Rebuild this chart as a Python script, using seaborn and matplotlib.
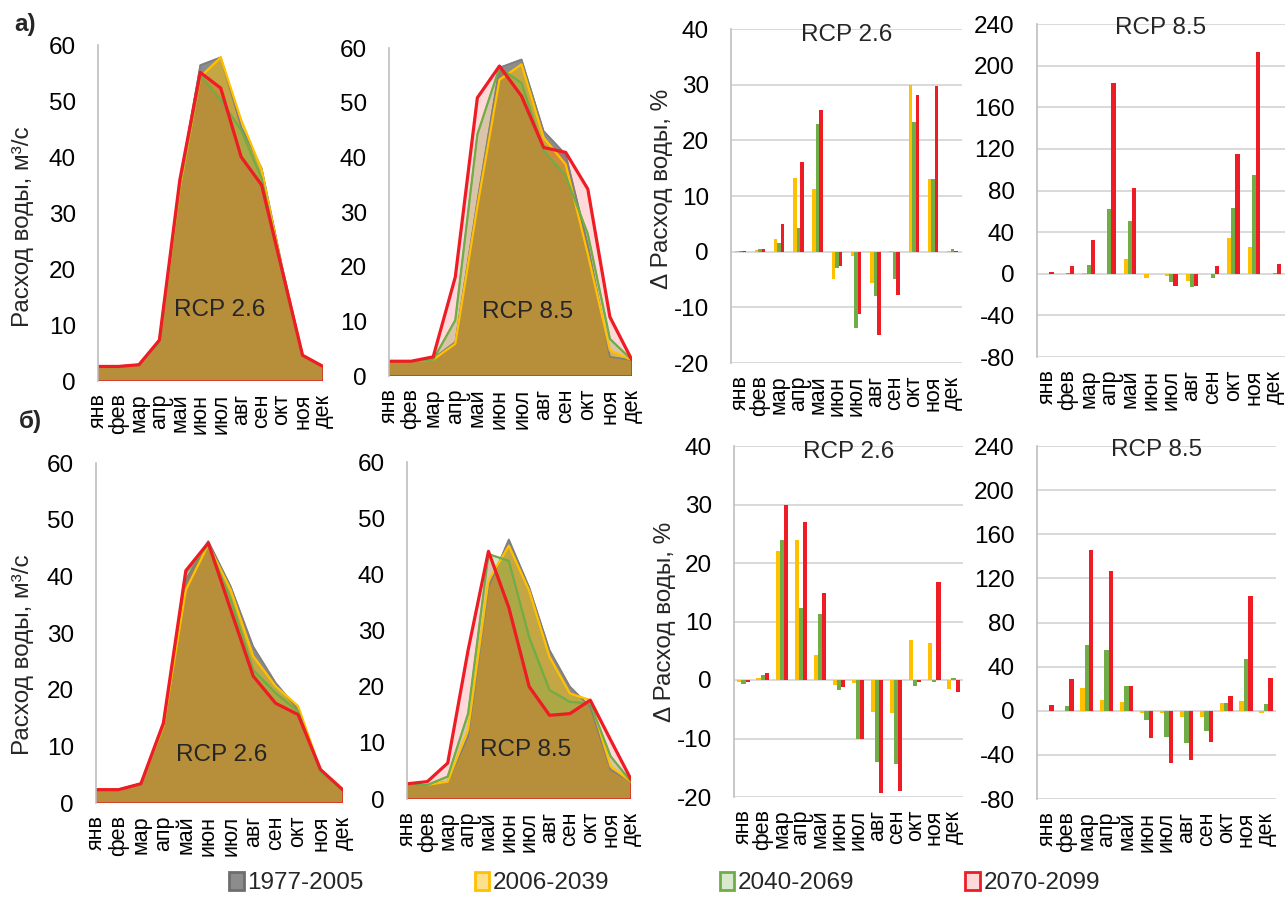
import numpy as np
import pandas as pd
import matplotlib
matplotlib.use('Agg')
import matplotlib.pyplot as plt
import seaborn as sns
from matplotlib.patches import Patch

# ---- data -------------------------------------------------------------
months = ['янв', 'фев', 'мар', 'апр', 'май', 'июн',
          'июл', 'авг', 'сен', 'окт', 'ноя', 'дек']
periods = ['1977-2005', '2006-2039', '2040-2069', '2070-2099']

# monthly flow, m3/s  (a = upper row, b = lower row)
flow_a26_base = [2.6, 2.6, 2.9, 7.2, 35.5, 56.4, 57.8, 45.4, 38.0, 20.5, 4.6, 2.6]
flow_a26_p1 = [2.6, 2.6, 2.9, 7.2, 34.5, 54.3, 57.8, 46.6, 37.7, 20.0, 4.6, 2.6]
flow_a26_p2 = [2.6, 2.6, 2.9, 7.0, 35.0, 54.6, 50.2, 44.8, 36.2, 19.5, 4.5, 2.6]
flow_a26_p3 = [2.6, 2.6, 2.9, 7.3, 35.9, 55.1, 52.3, 40.0, 35.0, 19.8, 4.6, 2.6]

flow_a85_base = [2.7, 2.7, 3.2, 6.2, 32.0, 56.4, 57.9, 44.8, 40.5, 24.0, 3.5, 2.9]
flow_a85_p1 = [2.7, 2.7, 3.0, 5.9, 31.0, 54.2, 57.0, 43.6, 38.7, 22.3, 4.7, 2.9]
flow_a85_p2 = [2.7, 2.7, 3.0, 10.2, 44.2, 56.4, 53.6, 41.2, 36.6, 26.0, 6.8, 2.9]
flow_a85_p3 = [2.7, 2.7, 3.5, 18.1, 50.9, 56.7, 51.2, 41.8, 40.9, 34.2, 10.8, 2.9]

flow_b26_base = [2.35, 2.35, 3.4, 14.0, 39.4, 46.2, 38.2, 27.6, 21.2, 16.5, 5.6, 2.3]
flow_b26_p1 = [2.35, 2.35, 3.4, 13.5, 37.6, 45.6, 37.6, 25.9, 20.6, 17.1, 5.8, 2.3]
flow_b26_p2 = [2.35, 2.35, 3.4, 13.8, 40.6, 45.6, 35.9, 23.5, 19.4, 16.2, 5.5, 2.3]
flow_b26_p3 = [2.35, 2.35, 3.4, 14.1, 41.0, 45.9, 34.1, 22.4, 17.6, 15.6, 5.9, 2.3]

flow_b85_base = [2.5, 2.5, 3.1, 11.1, 37.7, 46.2, 37.7, 26.5, 20.0, 16.4, 5.2, 3.1]
flow_b85_p1 = [2.5, 2.5, 3.1, 12.3, 38.9, 45.1, 37.1, 25.3, 18.8, 17.6, 5.8, 3.1]
flow_b85_p2 = [2.5, 2.5, 4.0, 15.2, 43.6, 42.4, 28.8, 19.4, 17.3, 17.0, 7.6, 3.1]
flow_b85_p3 = [2.7, 3.1, 6.4, 26.5, 44.1, 34.1, 20.0, 14.9, 15.2, 17.6, 10.5, 3.5]

# change of flow vs 1977-2005, %
dq_a26_p1 = [0.1, 0.3, 2.3, 13.3, 11.3, -5.0, -0.8, -5.6, 0.1, 30.0, 13.0, 0.2]
dq_a26_p2 = [0.1, 0.5, 1.6, 4.3, 22.9, -2.9, -13.8, -7.9, -5.0, 23.3, 13.0, 0.4]
dq_a26_p3 = [0.1, 0.5, 5.0, 16.1, 25.4, -2.5, -11.2, -15.0, -7.7, 28.2, 29.8, 0.2]

dq_a85_p1 = [-0.5, 0.0, 1.0, -0.5, 14.0, -4.0, -2.0, -7.0, 0.0, 34.0, 26.0, 0.0]
dq_a85_p2 = [0.0, 1.0, 8.0, 62.0, 51.0, 0.0, -8.0, -13.0, -4.0, 63.0, 95.0, 1.0]
dq_a85_p3 = [2.0, 7.0, 32.0, 183.0, 82.0, 0.0, -12.0, -12.0, 7.0, 115.0, 213.0, 9.0]

dq_b26_p1 = [-0.3, 0.4, 22.0, 24.0, 4.2, -0.8, -0.5, -5.4, -5.6, 6.8, 6.3, -1.5]
dq_b26_p2 = [-0.6, 0.9, 24.0, 12.3, 11.3, -1.7, -10.0, -14.1, -14.3, -1.0, -0.3, 0.4]
dq_b26_p3 = [-0.3, 1.2, 30.0, 27.0, 14.8, -1.2, -10.0, -19.3, -19.0, -0.4, 16.8, -2.0]

dq_b85_p1 = [0.0, 0.0, 21.0, 10.0, 8.0, -2.0, -2.0, -6.0, -6.0, 7.0, 9.0, -2.0]
dq_b85_p2 = [0.0, 4.0, 60.0, 55.0, 22.0, -8.0, -24.0, -29.0, -18.0, 7.0, 47.0, 6.0]
dq_b85_p3 = [5.0, 29.0, 146.0, 127.0, 22.0, -25.0, -47.0, -45.0, -28.0, 13.0, 104.0, 30.0]

# ---- style ------------------------------------------------------------
sns.set_theme(style='white')
plt.rcParams['font.family'] = ['Liberation Sans', 'DejaVu Sans']
plt.rcParams['axes.unicode_minus'] = False

line_colors = ['#7F7F7F', '#FFC000', '#70AD47', '#EE1C24']
fill_colors = ['#8C8C8C', '#FFC000', '#70AD47', '#FF0000']
fill_alpha = [1.0, 0.5, 0.3, 0.15]
line_widths = [1.2, 1.6, 1.6, 2.3]
bar_colors = ['#FFC000', '#70AD47', '#EE1C24']
spine_col = '#BFBFBF'
grid_col = '#D9D9D9'
FS = 17.5
FS_MONTH = 15.5

W, H = 1288, 913
fig = plt.figure(figsize=(W / 100, H / 100), dpi=100)


def px_axes(left, top, right, bottom):
    return fig.add_axes([left / W, 1 - bottom / H, (right - left) / W, (bottom - top) / H])


def style_common(ax):
    for s in ['top', 'right', 'bottom']:
        ax.spines[s].set_visible(False)
    ax.spines['left'].set_color(spine_col)
    ax.spines['left'].set_linewidth(1.2)
    ax.tick_params(axis='y', length=0, pad=16, labelsize=FS, colors='black')
    ax.tick_params(axis='x', length=0, pad=9, labelsize=FS_MONTH, colors='black')
    ax.set_xlabel('')
    ax.set_ylabel('')


def draw_area(ax, series, label, tx, ty):
    x = np.arange(len(months))
    for i, vals in enumerate(series):
        ax.fill_between(x, 0, vals, facecolor=fill_colors[i], alpha=fill_alpha[i],
                        edgecolor='none', linewidth=0)
        ax.fill_between(x, 0, vals, facecolor='none', edgecolor=line_colors[i],
                        linewidth=1.0)
        sns.lineplot(x=x, y=vals, ax=ax, color=line_colors[i], lw=line_widths[i],
                     legend=False)
    ax.set_xlim(0, 11)
    ax.set_ylim(0, 60)
    ax.set_yticks(range(0, 61, 10))
    ax.set_xticks(x)
    ax.set_xticklabels(months, rotation=90)
    style_common(ax)
    ax.text(tx, ty, label, transform=ax.transAxes, ha='center', va='center', fontsize=FS)


def draw_bars(ax, p1, p2, p3, title, ylim, step, ty, width):
    df = pd.DataFrame({
        'month': months * 3,
        'period': np.repeat(periods[1:], len(months)),
        'change': np.concatenate([p1, p2, p3]),
    })
    sns.barplot(data=df, x='month', y='change', hue='period', order=months,
                hue_order=periods[1:], palette=bar_colors, width=width, saturation=1,
                errorbar=None, legend=False, linewidth=0, ax=ax)
    ax.set_ylim(*ylim)
    ax.set_yticks(np.arange(ylim[0], ylim[1] + 1, step))
    ax.set_xlim(-0.5, 11.5)
    ax.set_axisbelow(True)
    ax.yaxis.grid(True, color=grid_col, linewidth=1.4)
    ax.xaxis.grid(False)
    ax.set_xticks(range(12))
    ax.set_xticklabels(months, rotation=90)
    style_common(ax)
    ax.text(0.5, ty, title, transform=ax.transAxes, ha='center', va='center', fontsize=FS)


ylab_flow = 'Расход воды, м³/с'
ylab_delta = 'Δ Расход воды, %'

# upper row
ax = px_axes(98, 45, 323, 381)
draw_area(ax, [flow_a26_base, flow_a26_p1, flow_a26_p2, flow_a26_p3], 'RCP 2.6', 0.54, 0.21)
ax.text(-0.335, 0.46, ylab_flow, transform=ax.transAxes, rotation=90,
        ha='center', va='center', fontsize=FS)

ax = px_axes(389, 48, 632, 376)
draw_area(ax, [flow_a85_base, flow_a85_p1, flow_a85_p2, flow_a85_p3], 'RCP 8.5', 0.57, 0.195)

ax = px_axes(731, 29, 962, 363)
draw_bars(ax, dq_a26_p1, dq_a26_p2, dq_a26_p3, 'RCP 2.6', (-20, 40), 10, 0.982, 0.55)
ax.text(-0.30, 0.52, ylab_delta, transform=ax.transAxes, rotation=90,
        ha='center', va='center', fontsize=FS)

ax = px_axes(1037, 24, 1285, 357)
draw_bars(ax, dq_a85_p1, dq_a85_p2, dq_a85_p3, 'RCP 8.5', (-80, 240), 40, 0.988, 0.6)

# lower row
ax = px_axes(96, 463, 343, 803)
draw_area(ax, [flow_b26_base, flow_b26_p1, flow_b26_p2, flow_b26_p3], 'RCP 2.6', 0.51, 0.14)
ax.text(-0.296, 0.435, ylab_flow, transform=ax.transAxes, rotation=90,
        ha='center', va='center', fontsize=FS)

ax = px_axes(407, 462, 631, 799)
draw_area(ax, [flow_b85_base, flow_b85_p1, flow_b85_p2, flow_b85_p3], 'RCP 8.5', 0.53, 0.145)

ax = px_axes(734, 446, 963, 797)
draw_bars(ax, dq_b26_p1, dq_b26_p2, dq_b26_p3, 'RCP 2.6', (-20, 40), 10, 0.983, 0.65)
ax.text(-0.30, 0.50, ylab_delta, transform=ax.transAxes, rotation=90,
        ha='center', va='center', fontsize=FS)

ax = px_axes(1037, 446, 1276, 799)
draw_bars(ax, dq_b85_p1, dq_b85_p2, dq_b85_p3, 'RCP 8.5', (-80, 240), 40, 0.989, 0.67)

# panel letters
fig.text(25 / W, 1 - 25 / H, 'а)', fontsize=FS, fontweight='bold', ha='center', va='center')
fig.text(30 / W, 1 - 421 / H, 'б)', fontsize=FS, fontweight='bold', ha='center', va='center')

# legend
legend_faces = ['#8C8C8C', '#FFE08A', '#D8E9CE', '#FFD9D9']
legend_edges = ['#6E6E6E', '#FFC000', '#70AD47', '#EE1C24']
handles = [Patch(facecolor=f, edgecolor=e, linewidth=2) for f, e in zip(legend_faces, legend_edges)]
fig.legend(handles, periods, loc='center', bbox_to_anchor=(0.516, 1 - 883 / H), ncol=4,
           frameon=False, fontsize=FS, handlelength=0.6, handleheight=0.8,
           handletextpad=0.15, columnspacing=4.55)

fig.savefig('out.png', dpi=100)
